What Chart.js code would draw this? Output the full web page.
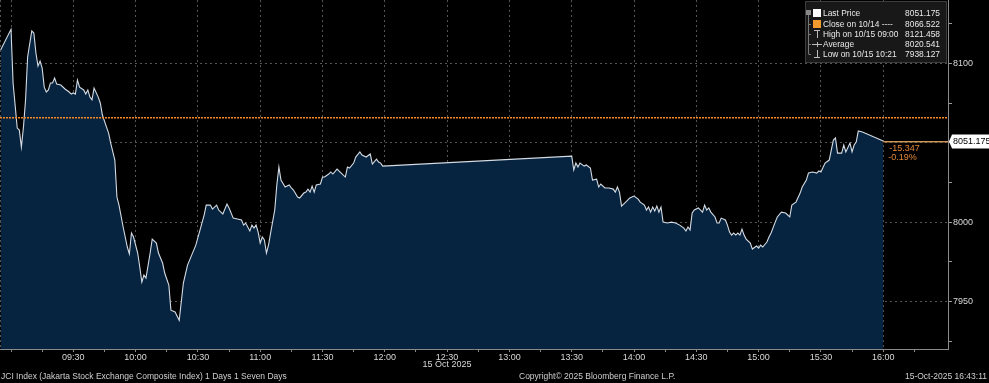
<!DOCTYPE html>
<html><head><meta charset="utf-8">
<script src="https://cdn.jsdelivr.net/npm/chart.js@4.4.1/dist/chart.umd.min.js"></script>
<style>html,body{margin:0;padding:0;background:#000;overflow:hidden}#wrap{position:relative;width:989px;height:383px}</style>
</head><body><div id="wrap"><canvas id="c" width="989" height="383"></canvas></div>
<script>
// ---- data ----
const times = ["08:55","09:00","09:01","09:03","09:04","09:05","09:06","09:07","09:08","09:10","09:11","09:12","09:13","09:14","09:15","09:16","09:17","09:18","09:19","09:20","09:21","09:22","09:24","09:26","09:28","09:29","09:30","09:31","09:32","09:33","09:35","09:36","09:37","09:38","09:39","09:40","09:42","09:43","09:44","09:46","09:47","09:48","09:50","09:51","09:52","09:54","09:56","09:57","09:58","09:59","10:01","10:02","10:03","10:04","10:05","10:07","10:08","10:10","10:11","10:13","10:14","10:16","10:17","10:19","10:21","10:23","10:25","10:27","10:29","10:31","10:33","10:34","10:36","10:37","10:39","10:40","10:42","10:44","10:45","10:47","10:49","10:51","10:52","10:53","10:55","10:56","10:57","10:58","10:59","11:00","11:01","11:02","11:03","11:04","11:05","11:07","11:08","11:09","11:10","11:12","11:14","11:15","11:16","11:18","11:19","11:21","11:22","11:23","11:24","11:25","11:26","11:27","11:29","11:30","11:31","11:33","11:34","11:35","11:37","11:39","11:41","11:42","11:43","11:45","11:46","11:48","11:49","11:51","11:53","11:54","11:56","11:57","11:58","11:59",
"13:30","13:31","13:32","13:33","13:34","13:36","13:37","13:39","13:40","13:42","13:43","13:44","13:46","13:48","13:50","13:51","13:52","13:53","13:54","13:56","13:58","14:00","14:02","14:03","14:05","14:06","14:07","14:08","14:09","14:10","14:11","14:12","14:13","14:14","14:16","14:18","14:20","14:22","14:24","14:25","14:26","14:27","14:28","14:29","14:31","14:33","14:34","14:35","14:36","14:37","14:39","14:40","14:41","14:42","14:44","14:45","14:46","14:47","14:48","14:49","14:50","14:51","14:52","14:53","14:54","14:56","14:57","14:59","15:00","15:01","15:02","15:04","15:05","15:06","15:08","15:09","15:11","15:13","15:15","15:16","15:18","15:20","15:21","15:23","15:24","15:26","15:28","15:29","15:30","15:32","15:34","15:36","15:37","15:38","15:40","15:41","15:42","15:44","15:45","15:46","15:47","15:48","15:50","16:00"];
const prices = [8108.5,8121.5,8087.7,8059.3,8058.0,8047.3,8059.9,8077.0,8104.1,8120.5,8119.2,8106.6,8098.4,8101.5,8097.1,8085.1,8082.0,8083.3,8087.7,8087.7,8090.8,8087.0,8086.4,8083.9,8082.0,8080.7,8081.4,8080.7,8089.6,8085.1,8083.3,8080.7,8083.3,8078.8,8077.0,8084.5,8078.8,8075.1,8067.5,8059.9,8056.1,8049.8,8039.1,8015.8,8010.7,7996.9,7984.3,7979.9,7993.1,7990.6,7980.5,7971.7,7962.2,7966.6,7964.7,7980.5,7989.3,7986.8,7980.5,7974.2,7967.9,7960.3,7944.5,7943.3,7938.1,7961.6,7972.9,7979.2,7985.5,7995.0,8004.4,8010.7,8010.7,8008.2,8010.7,8007.6,8005.1,8011.4,8008.9,8002.5,8001.9,8001.3,7998.1,7999.4,7994.4,7998.1,7996.2,7998.1,7993.7,7986.8,7990.6,7988.7,7980.5,7985.5,7993.1,8007.6,8023.4,8034.7,8026.5,8022.1,8023.4,8021.5,8020.2,8015.8,8015.2,8018.3,8018.9,8020.8,8018.9,8022.7,8018.9,8023.4,8024.0,8028.4,8028.4,8030.3,8031.6,8030.3,8033.4,8030.9,8028.4,8034.7,8034.1,8037.2,8041.0,8044.2,8042.3,8041.0,8042.9,8036.6,8039.7,8037.9,8037.2,8035.3,
8041.6,8032.8,8037.2,8034.7,8037.2,8035.3,8036.0,8034.1,8026.5,8027.1,8022.1,8024.0,8021.5,8021.5,8020.8,8018.9,8022.1,8018.9,8010.1,8012.6,8015.2,8016.4,8014.5,8012.6,8010.7,8007.6,8009.5,8006.3,8009.5,8007.0,8010.1,8006.3,8009.5,8000.0,7999.4,8000.0,7999.4,7998.1,7996.2,7994.4,7996.9,7995.0,8005.7,8007.6,8008.9,8006.3,8010.7,8007.6,8008.9,8006.3,8003.2,7999.4,7999.4,8002.5,8001.3,7998.1,7993.7,7991.8,7993.1,7991.8,7993.1,7991.8,7995.6,7991.8,7989.3,7986.8,7983.0,7984.9,7983.6,7985.5,7984.3,7987.4,7990.6,7993.1,8000.0,8003.2,8006.3,8005.7,8003.2,8010.7,8012.6,8018.3,8022.1,8026.5,8030.9,8031.6,8030.9,8032.2,8031.6,8037.2,8039.1,8051.7,8053.0,8043.5,8043.5,8048.6,8044.2,8049.8,8044.2,8048.6,8050.5,8057.4,8056.8,8051.175];

const xTickLabels = ["09:30","10:00","10:30","11:00","11:30","12:00","12:30","13:00","13:30","14:00","14:30","15:00","15:30","16:00"];
const yTickLabels = [8100, 8000, 7950];
const prevClose = 8066.522;
const lastPrice = 8051.175;
const netChangeText = "-15.347";
const pctChangeText = "-0.19%";
const legendLabels = ["Last Price","Close on 10/14 ----","High on 10/15 09:00","Average","Low on 10/15 10:21"];
const legendValues = ["8051.175","8066.522","8121.458","8020.541","7938.127"];
const dateLabel = "15 Oct 2025";
const dateLabelAt = "12:30";
const footerLeft = "JCI Index (Jakarta Stock Exchange Composite Index) 1 Days 1 Seven Days";
const footerMid = "Copyright\u00A9 2025 Bloomberg Finance L.P.";
const footerRight = "15-Oct-2025 16:43:11";

// ---- helpers ----
const toMin = s => { const [h, m] = s.split(":").map(Number); return h * 60 + m; };
const FONT = '"Liberation Sans", Arial, sans-serif';
const labelSet = new Set(xTickLabels.map(toMin));
const fmt = v => { const h = Math.floor(v / 60), m = Math.round(v % 60); return String(h).padStart(2, "0") + ":" + String(m).padStart(2, "0"); };

const overlay = {
  id: "overlay",
  afterDatasetsDraw(chart) {
    const { ctx, chartArea: a, scales: { x, y } } = chart;
    ctx.save();
    // previous close dotted line (orange dots)
    const yc = Math.round(y.getPixelForValue(prevClose));
    for (let px = Math.ceil(a.left); px < a.right; px += 3) {
      ctx.fillStyle = "#f08a24"; ctx.fillRect(px, yc, 2, 1);
      ctx.fillStyle = "rgba(230,120,30,0.55)"; ctx.fillRect(px, yc + 1, 2, 1);
    }
    // last price line
    const yl = Math.round(y.getPixelForValue(lastPrice));
    const xl = x.getPixelForValue(toMin(times[times.length - 1]));
    ctx.fillStyle = "#d0965a"; ctx.fillRect(xl, yl, a.right - xl, 1);
    ctx.fillStyle = "rgba(200,140,80,0.45)"; ctx.fillRect(xl, yl + 1, a.right - xl, 1);
    // change labels
    ctx.fillStyle = "#e0873a"; ctx.font = "9px " + FONT; ctx.textBaseline = "middle"; ctx.textAlign = "left";
    ctx.fillText(netChangeText, xl + 6, yl + 7.5);
    ctx.fillText(pctChangeText, xl + 5, yl + 16.5);
    // left edge dotted line
    ctx.strokeStyle = "#555"; ctx.lineWidth = 1; ctx.setLineDash([2, 3]);
    ctx.beginPath(); ctx.moveTo(a.left + 0.5, a.top); ctx.lineTo(a.left + 0.5, a.bottom); ctx.stroke();
    ctx.restore();
  },
  afterDraw(chart) {
    const { ctx, chartArea: a, scales: { x, y } } = chart;
    ctx.save();
    // price box on the axis
    const yl = Math.round(y.getPixelForValue(lastPrice));
    ctx.fillStyle = "#ffffff";
    ctx.beginPath();
    ctx.moveTo(a.right + 1, yl + 0.5);
    ctx.lineTo(a.right + 4, yl - 6.5);
    ctx.lineTo(989, yl - 6.5); ctx.lineTo(989, yl + 7.5);
    ctx.lineTo(a.right + 4, yl + 7.5); ctx.closePath(); ctx.fill();
    ctx.fillStyle = "#000"; ctx.font = "9px " + FONT; ctx.textBaseline = "middle"; ctx.textAlign = "left";
    ctx.fillText(lastPrice.toFixed(3), a.right + 5, yl + 1);

    // legend box
    const bx = 805.5, by = 1.5, bw = 141, bh = 61;
    ctx.fillStyle = "#181818"; ctx.fillRect(bx, by, bw, bh);
    ctx.strokeStyle = "#3c3c3c"; ctx.lineWidth = 1; ctx.strokeRect(bx, by, bw, bh);
    const rowY = [13, 24, 34, 44, 54];
    // tree connector
    ctx.strokeStyle = "#777";
    ctx.beginPath(); ctx.moveTo(808.5, 13); ctx.lineTo(808.5, 54); ctx.stroke();
    for (let i = 1; i < 5; i++) { ctx.beginPath(); ctx.moveTo(808.5, rowY[i] + 0.5); ctx.lineTo(811, rowY[i] + 0.5); ctx.stroke(); }
    ctx.fillStyle = "#888"; ctx.fillRect(806, 10, 5, 5);
    // icons
    ctx.fillStyle = "#ffffff"; ctx.fillRect(813, 9, 8, 8);
    ctx.fillStyle = "#f29a2e"; ctx.fillRect(813, 20, 8, 8);
    ctx.strokeStyle = "#bbb";
    ctx.beginPath(); ctx.moveTo(814, 30.5); ctx.lineTo(820, 30.5); ctx.moveTo(817.5, 30); ctx.lineTo(817.5, 38); ctx.stroke();
    ctx.beginPath(); ctx.moveTo(812, 44.5); ctx.lineTo(822, 44.5); ctx.moveTo(817.5, 42); ctx.lineTo(817.5, 47); ctx.stroke();
    ctx.beginPath(); ctx.moveTo(817.5, 50); ctx.lineTo(817.5, 57); ctx.moveTo(814, 57.5); ctx.lineTo(820, 57.5); ctx.stroke();
    ctx.fillStyle = "#e8e8e8"; ctx.font = "8.4px " + FONT; ctx.textBaseline = "middle";
    for (let i = 0; i < 5; i++) {
      ctx.textAlign = "left"; ctx.fillText(legendLabels[i], 823, rowY[i] + 0.5);
      ctx.textAlign = "right"; ctx.fillText(legendValues[i], 940, rowY[i] + 0.5);
    }

    // date label under the axis
    ctx.fillStyle = "#d8d8d8"; ctx.textAlign = "center"; ctx.font = "9px " + FONT;
    ctx.fillText(dateLabel, x.getPixelForValue(toMin(dateLabelAt)), 365);
    // footer
    ctx.fillStyle = "#cfcfcf"; ctx.font = "8.5px " + FONT;
    ctx.textAlign = "left"; ctx.fillText(footerLeft, 1, 377);
    ctx.fillText(footerMid, 519, 377);
    ctx.textAlign = "right"; ctx.fillText(footerRight, 987, 377);
    ctx.restore();
  }
};

new Chart(document.getElementById("c"), {
  type: "line",
  data: {
    datasets: [{
      data: times.map((t, i) => ({ x: toMin(t), y: prices[i] })),
      borderColor: "#d4dbe3",
      borderWidth: 1.1,
      backgroundColor: "#062340",
      fill: "start",
      pointRadius: 0,
      tension: 0
    }]
  },
  options: {
    responsive: false,
    animation: false,
    devicePixelRatio: 1,
    layout: { padding: 0 },
    plugins: { legend: { display: false }, tooltip: { enabled: false } },
    scales: {
      x: {
        type: "linear", position: "bottom", z: 1,
        min: 534.7, max: 991.2,
        afterFit: s => { s.height = 34; s.paddingLeft = 0; s.paddingRight = 0; },
        afterBuildTicks: s => { const t = []; for (let v = 540; v <= 975; v += 15) t.push({ value: v }); s.ticks = t; },
        ticks: {
          autoSkip: false, maxRotation: 0, padding: 0, color: "#d8d8d8",
          font: { family: FONT, size: 9 },
          callback: v => labelSet.has(v) ? fmt(v) : ""
        },
        grid: {
          color: c => (c.tick && c.tick.value % 30 === 0 && c.tick.value <= 960) ? "#555" : "rgba(0,0,0,0)",
          tickColor: "#888", tickLength: 3, lineWidth: 1
        },
        border: { display: true, color: "#8a8a8a", width: 1, dash: [2, 3] }
      },
      y: {
        type: "linear", position: "right", z: 1,
        min: 7920, max: 8140,
        afterFit: s => { s.width = 41; s.paddingTop = 0; s.paddingBottom = 0; },
        afterBuildTicks: s => { const t = []; for (let v = 7925; v <= 8125; v += 25) t.push({ value: v }); s.ticks = t; },
        ticks: {
          padding: 1, color: "#d8d8d8",
          font: { family: FONT, size: 9 },
          callback: v => yTickLabels.includes(v) ? String(v) : ""
        },
        grid: {
          color: c => (c.tick && c.tick.value % 50 === 0) ? "#555" : "rgba(0,0,0,0)",
          tickColor: "#999", tickLength: 4, lineWidth: 1
        },
        border: { display: true, color: "#8a8a8a", width: 1, dash: [2, 3] }
      }
    }
  },
  plugins: [overlay]
});
</script>
</body></html>
